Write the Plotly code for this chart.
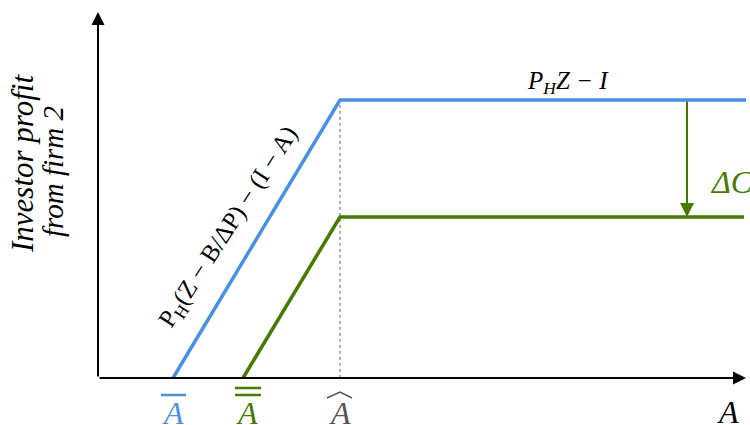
import plotly.graph_objects as go

BLUE = "#4A90E2"
GREEN = "#467A00"
FONT = "'Liberation Serif', 'DejaVu Serif', serif"

# thresholds on the A axis
a_bar = 0.75
a_dbar = 1.45
a_hat = 2.42
x_end = 6.48
y_top = 3.66

# profit levels
high_profit = 2.78
low_profit = 1.61

blue_x = [a_bar, a_hat, x_end]
blue_y = [0, high_profit, high_profit]
green_x = [a_dbar, a_hat, 6.46]
green_y = [0, low_profit, low_profit]
dc_x = 5.89

fig = go.Figure()

# dotted guide at A-hat
fig.add_trace(go.Scatter(
    x=[a_hat, a_hat], y=[0, high_profit], mode="lines",
    line=dict(color="#999999", width=1.5, dash="dot"),
    hoverinfo="skip", showlegend=False,
))
fig.add_trace(go.Scatter(
    x=blue_x, y=blue_y, mode="lines",
    line=dict(color=BLUE, width=3.5),
    hoverinfo="skip", showlegend=False,
))
fig.add_trace(go.Scatter(
    x=green_x, y=green_y, mode="lines",
    line=dict(color=GREEN, width=3.5),
    hoverinfo="skip", showlegend=False,
))

def arrow(x0, y0, x1, y1, color, width=2, size=1.2):
    fig.add_annotation(
        x=x1, y=y1, ax=x0, ay=y0, xref="x", yref="y", axref="x", ayref="y",
        showarrow=True, arrowhead=2, arrowsize=size, arrowwidth=width,
        arrowcolor=color, text="",
    )

# axes with arrowheads
arrow(0, 0, x_end, 0, "black", 2, 1.3)
arrow(0, 0, 0, y_top, "black", 2, 1.3)
# Delta C arrow
arrow(dc_x, high_profit, dc_x, low_profit, GREEN, 2, 1.4)

def label(x, y, text, color="black", size=22, angle=0):
    fig.add_annotation(
        x=x, y=y, xref="x", yref="y", text=text, showarrow=False,
        textangle=angle, font=dict(family=FONT, size=size, color=color),
    )

label(-0.76, 2.14, "<i>Investor profit</i>", size=31, angle=-90)
label(-0.45, 2.06, "<i>from firm 2</i>", size=29, angle=-90)
label(4.70, 2.96, "<i>P<sub>H</sub>Z − I</i>", size=25)
label(6.33, 1.96, "<i>ΔC</i>", color=GREEN, size=32)
label(1.31, 1.51, "P<sub>H</sub>(Z − B/ΔP) − (I − A)", size=25, angle=-57)
label(6.30, -0.34, "<i>A</i>", size=32)
label(a_bar, -0.35, "<i>A</i>", color=BLUE, size=32)
label(a_dbar + 0.04, -0.35, "<i>A</i>", color=GREEN, size=32)
label(a_hat, -0.35, "<i>A</i>", color="#555555", size=32)

# overbars and hat on the tick letters
fig.add_shape(type="line", x0=a_bar - 0.12, x1=a_bar + 0.13, y0=-0.17, y1=-0.17,
              line=dict(color=BLUE, width=2.5))
for yy in (-0.10, -0.17):
    fig.add_shape(type="line", x0=a_dbar - 0.08, x1=a_dbar + 0.18, y0=yy, y1=yy,
                  line=dict(color=GREEN, width=2.5))
fig.add_shape(type="path", path=f"M {a_hat - 0.13},-0.2 L {a_hat},-0.14 L {a_hat + 0.12},-0.2",
              line=dict(color="#555555", width=1.5))

fig.update_layout(
    width=750, height=425,
    margin=dict(l=0, r=0, t=0, b=0),
    plot_bgcolor="white", paper_bgcolor="white",
    xaxis=dict(range=[-0.98, 6.52], visible=False, fixedrange=True),
    yaxis=dict(range=[-0.47, 3.78], visible=False, fixedrange=True),
    showlegend=False,
)

fig.write_html("out.html", config={"displayModeBar": False},
               post_script="document.body.style.margin='0';")
